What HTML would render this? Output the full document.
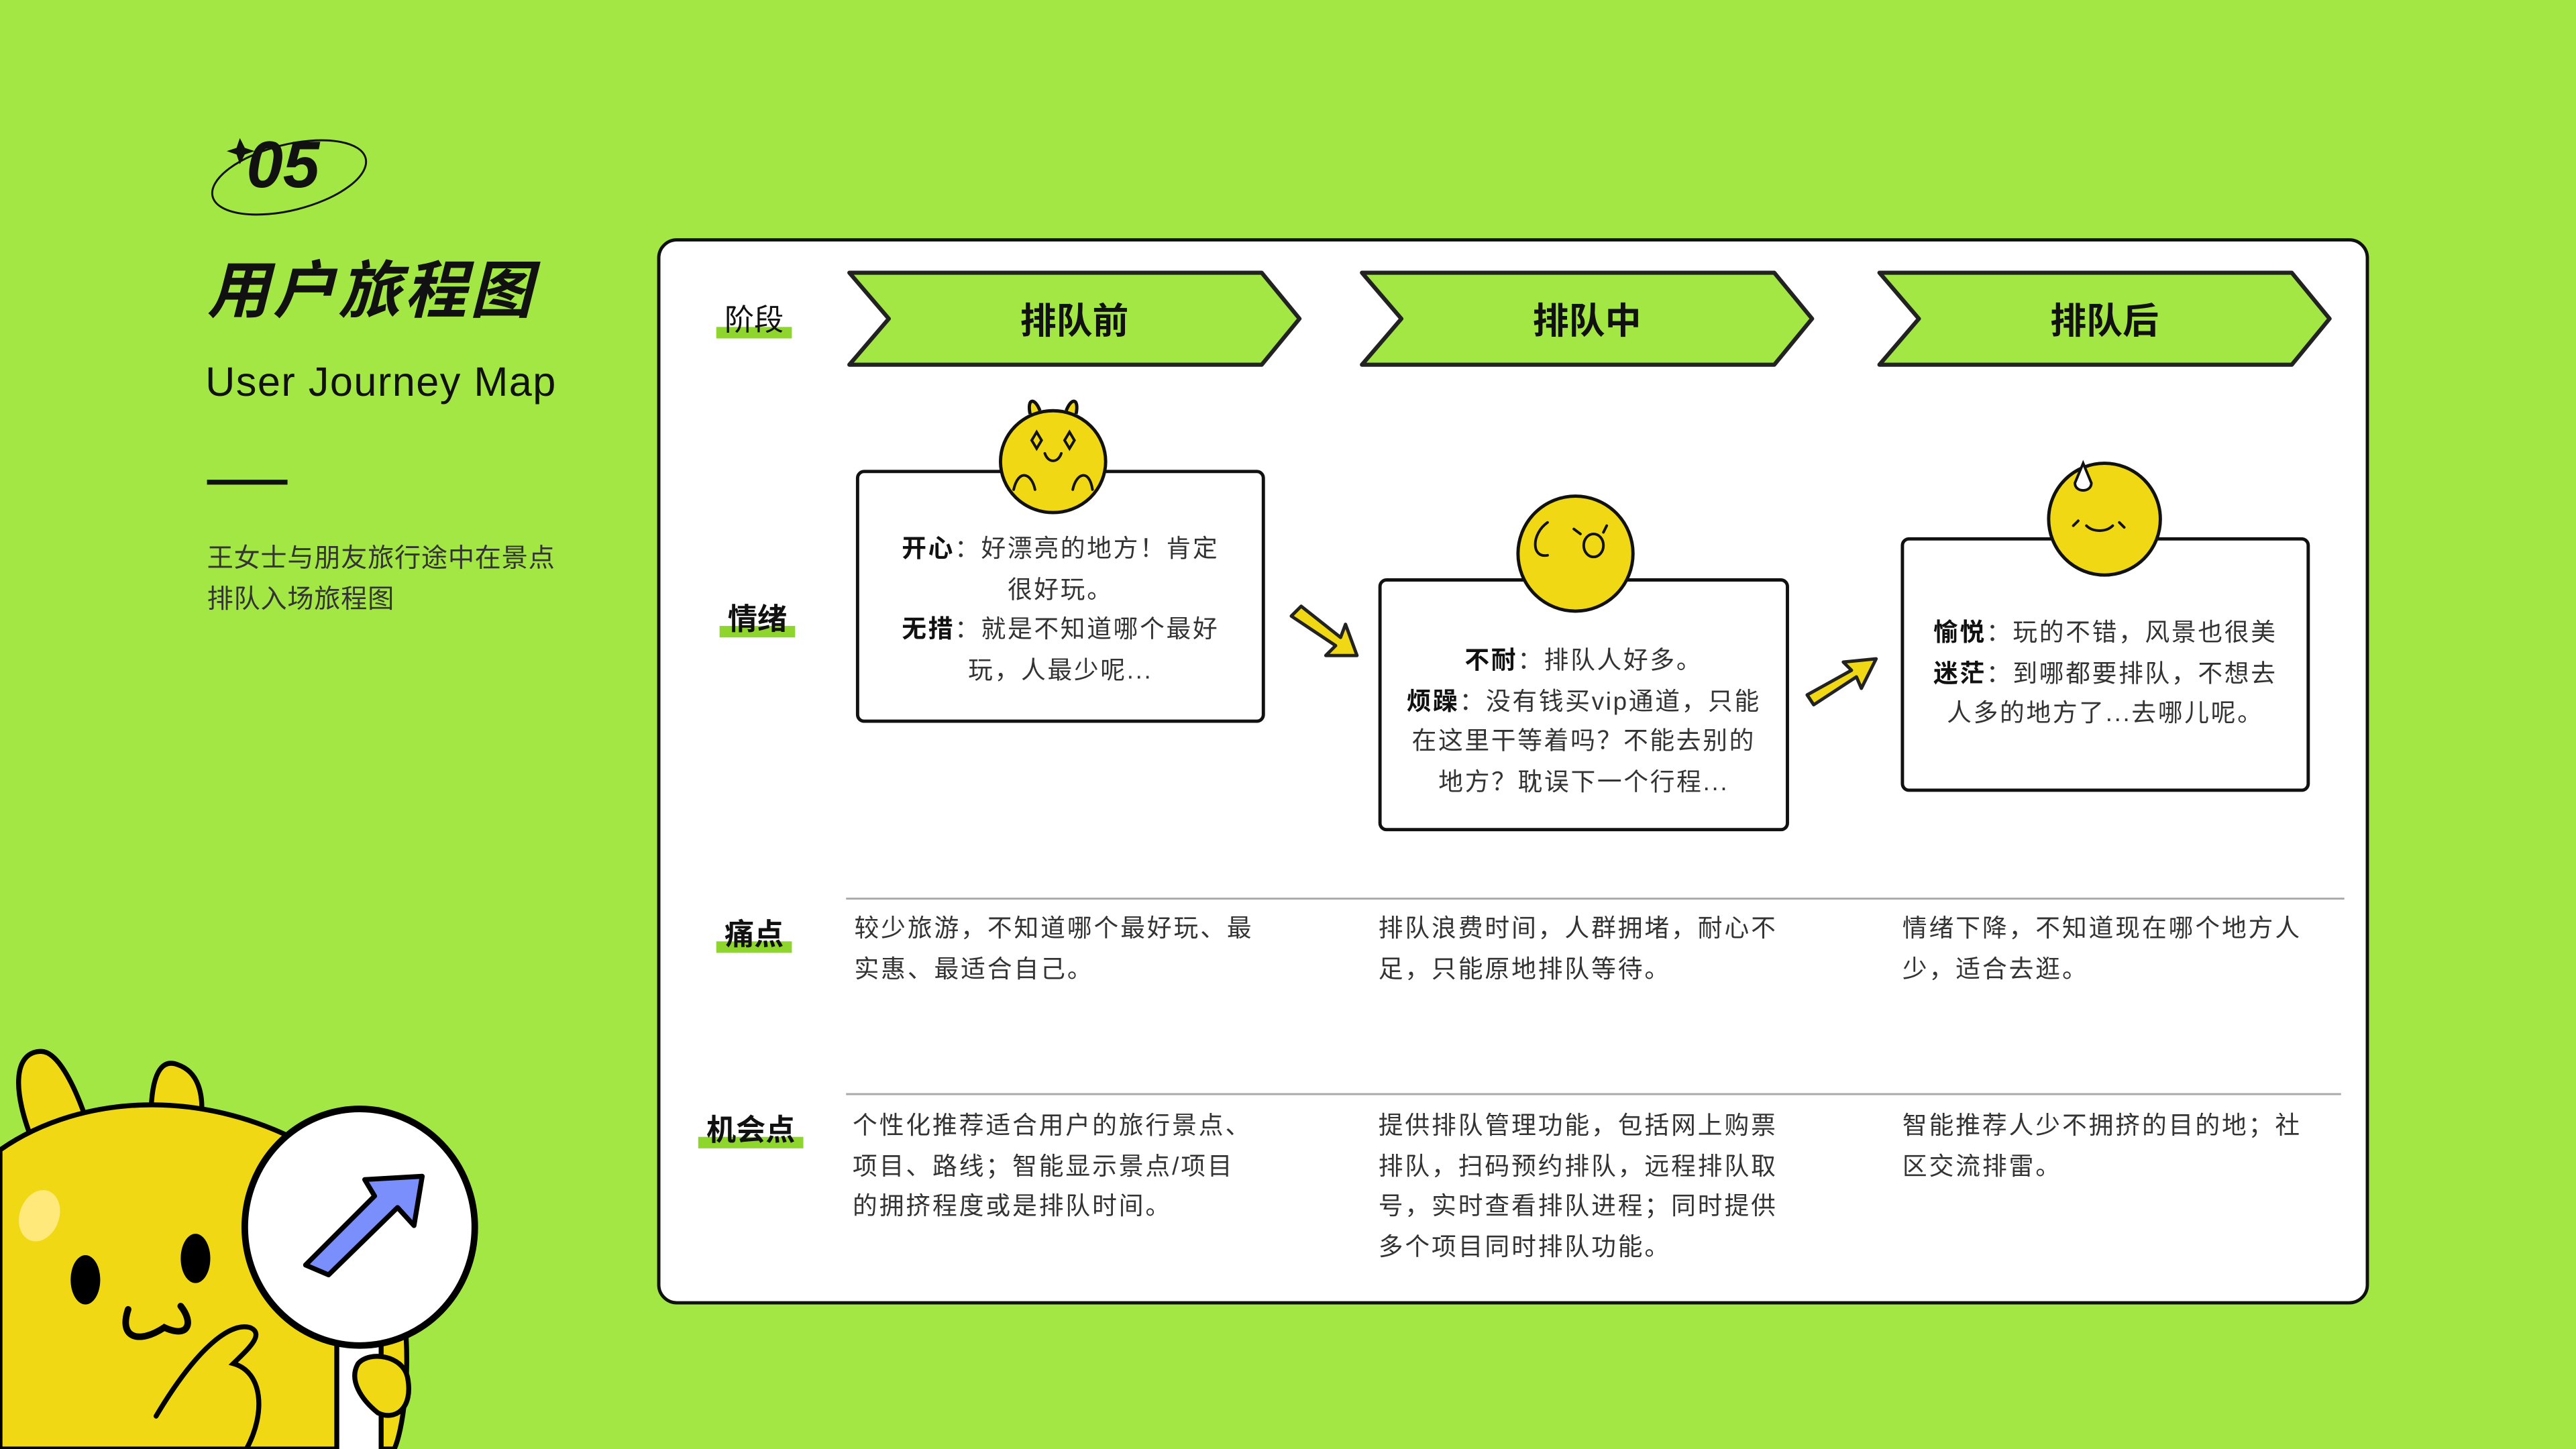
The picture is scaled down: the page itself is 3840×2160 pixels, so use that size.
<!DOCTYPE html>
<html><head><meta charset="utf-8"><style>
*{margin:0;padding:0;box-sizing:border-box}
body{width:3840px;height:2160px;overflow:hidden;background:#a3e745}
#w{position:absolute;left:0;top:0;width:1568px;height:882px;transform:scale(2.44898);transform-origin:0 0;font-family:"Liberation Sans","Noto Sans CJK SC",sans-serif;color:#222}
.a{position:absolute}
.t{font-size:15px;line-height:24.5px;color:#333;white-space:nowrap;letter-spacing:1.2px}
.lab{position:absolute;font-size:18px;font-weight:bold;color:#111;z-index:2}
.lab i{position:absolute;left:-5px;right:-5px;bottom:1px;height:7px;background:#8ed62e;z-index:-1}
.box{position:absolute;background:#fff;border:2px solid #111;border-radius:5px;text-align:center;font-size:15px;line-height:24.5px;color:#333;letter-spacing:1.1px;white-space:nowrap}
.box b{color:#111}
</style></head><body><div id="w">
<svg class="a" style="left:0;top:0" width="1568" height="882">
<ellipse cx="176" cy="108" rx="48" ry="20" transform="rotate(-14 176 108)" fill="none" stroke="#111" stroke-width="1.2"/>
<path d="M146 84 l3 6 6 2 -6 2 -3 6 -2-6 -6-2 6-2z" fill="#111"/>
<text x="150" y="114" font-family="Liberation Sans" font-weight="bold" font-style="italic" font-size="40" fill="#111">05</text>
<rect x="126" y="292" width="49" height="3" fill="#111"/>
<path d="M22 700 C5 660 10 640 25 640 C35 640 45 660 52 680Z" fill="#f0d914" stroke="#000" stroke-width="3"/>
<path d="M92 675 C93 650 100 645 108 648 C120 652 125 665 122 685Z" fill="#f0d914" stroke="#000" stroke-width="3"/>
<path d="M0 700 C50 665 130 660 200 705 C260 750 250 860 240 882 L0 882Z" fill="#f0d914" stroke="#000" stroke-width="3"/>
<ellipse cx="24" cy="740" rx="12" ry="16" fill="#ffe97a" transform="rotate(20 24 740)"/>
<ellipse cx="52" cy="779" rx="9" ry="15" fill="#000"/>
<ellipse cx="119" cy="766" rx="9" ry="15" fill="#000"/>
<path d="M78 797 C72 815 85 818 100 808 C115 815 118 805 110 795" fill="none" stroke="#000" stroke-width="4" stroke-linecap="round"/>
<path d="M95 862 C120 820 140 805 152 808 C162 812 150 822 142 830 C160 835 162 860 150 882" fill="none" stroke="#000" stroke-width="3" stroke-linecap="round"/>
<rect x="205" y="805" width="27" height="80" fill="#fff" stroke="#000" stroke-width="3"/>
<ellipse cx="219" cy="747" rx="70" ry="72" fill="#fff" stroke="#000" stroke-width="4"/>
<path d="M186 770 L228 728 L222 718 L257 716 L252 746 L242 735 L200 776Z" fill="#7b8ffc" stroke="#000" stroke-width="3" stroke-linejoin="round"/>
<path d="M218 830 C225 822 245 825 248 838 C252 858 240 865 230 860 C220 852 212 840 218 830Z" fill="#f0d914" stroke="#000" stroke-width="3"/>
</svg>
<div class="a" style="left:126px;top:146px;font-size:38px;font-weight:bold;font-style:italic;color:#111;letter-spacing:2px">用户旅程图</div>
<div class="a" style="left:125px;top:219px;font-size:25px;color:#111;letter-spacing:0.6px">User Journey Map</div>
<div class="a t" style="left:126px;top:329px;font-size:16px;letter-spacing:0.3px">王女士与朋友旅行途中在景点<br>排队入场旅程图</div>

<div class="a" style="left:400px;top:145px;width:1042px;height:649px;background:#fff;border:2px solid #111;border-radius:12px"></div>
<svg class="a" style="left:0;top:0" width="1568" height="882">
<g fill="#a3e745" stroke="#222" stroke-width="2.5" stroke-linejoin="round">
<path d="M517 166 H768 L791 194 L768 222 H517 L541 194Z"/>
<path d="M829 166 H1080 L1103 194 L1080 222 H829 L853 194Z"/>
<path d="M1144 166 H1395 L1418 194 L1395 222 H1144 L1168 194Z"/>
</g>
<g font-family="Liberation Sans,Noto Sans CJK SC" font-weight="bold" font-size="22" fill="#111" text-anchor="middle">
<text x="654" y="203">排队前</text><text x="966" y="203">排队中</text><text x="1281" y="203">排队后</text>
</g>
<line x1="515" y1="547" x2="1427" y2="547" stroke="#aaa" stroke-width="1.2"/>
<line x1="515" y1="666" x2="1425" y2="666" stroke="#aaa" stroke-width="1.2"/>
<g fill="#f0d914" stroke="#222" stroke-width="2" stroke-linejoin="round">
<path d="M786 375 L792 369 L816 388 L819 380 L826 399 L807 399 L813 393Z"/>
<path d="M1100 423 L1104 429 L1130 412 L1133 419 L1142 401 L1122 403 L1127 408Z"/>
</g>
</svg>
<div class="lab" style="left:441px;top:181px;font-weight:normal">阶段<i></i></div>
<div class="lab" style="left:443px;top:363px">情绪<i></i></div>
<div class="lab" style="left:441px;top:555px">痛点<i></i></div>
<div class="lab" style="left:430px;top:674px">机会点<i></i></div>

<div class="box" style="left:521px;top:286px;width:249px;height:154px;padding-top:35px"><b>开心</b>：好漂亮的地方！肯定<br>很好玩。<br><b>无措</b>：就是不知道哪个最好<br>玩，人最少呢...</div>
<div class="box" style="left:839px;top:352px;width:250px;height:154px;padding-top:37px"><b>不耐</b>：排队人好多。<br><b>烦躁</b>：没有钱买vip通道，只能<br>在这里干等着吗？不能去别的<br>地方？耽误下一个行程...</div>
<div class="box" style="left:1157px;top:327px;width:249px;height:155px;padding-top:45px"><b>愉悦</b>：玩的不错，风景也很美<br><b>迷茫</b>：到哪都要排队，不想去<br>人多的地方了...去哪儿呢。</div>

<svg class="a" style="left:0;top:0" width="1568" height="882">
<g fill="#f0d914" stroke="#111" stroke-width="2">
<path d="M627 252 C625 242 630 242 633 250 M649 250 C652 242 657 242 655 252"/>
<ellipse cx="641" cy="281" rx="32" ry="31"/>
<ellipse cx="959" cy="337" rx="35" ry="35"/>
<ellipse cx="1281" cy="316" rx="34" ry="34"/>
</g>
<g fill="none" stroke="#111" stroke-width="1.6" stroke-linecap="round">
<path d="M617 298 C620 285 628 288 630 298 M653 298 C655 288 663 285 665 298"/>
<path d="M636 276 C638 282 644 282 646 276"/>
<path d="M628 268 l3 -5 3 5 -3 5z M648 268 l3 -5 3 5 -3 5z"/>
<path d="M942 318 C932 325 932 340 942 338"/>
<ellipse cx="970" cy="332" rx="6" ry="7"/>
<path d="M958 322 l4 3 M978 320 l-2 4"/>
<path d="M1270 320 C1274 324 1282 324 1286 320 M1262 320 l3 -3 M1290 318 l3 3"/>
<path d="M1268 282 l-5 12 c0 6 10 6 10 0z" fill="#fff"/>
</g>
</svg>

<div class="a t" style="left:520px;top:554px">较少旅游，不知道哪个最好玩、最<br>实惠、最适合自己。</div>
<div class="a t" style="left:839px;top:554px">排队浪费时间，人群拥堵，耐心不<br>足，只能原地排队等待。</div>
<div class="a t" style="left:1158px;top:554px">情绪下降，不知道现在哪个地方人<br>少，适合去逛。</div>
<div class="a t" style="left:519px;top:674px">个性化推荐适合用户的旅行景点、<br>项目、路线；智能显示景点/项目<br>的拥挤程度或是排队时间。</div>
<div class="a t" style="left:839px;top:674px">提供排队管理功能，包括网上购票<br>排队，扫码预约排队，远程排队取<br>号，实时查看排队进程；同时提供<br>多个项目同时排队功能。</div>
<div class="a t" style="left:1158px;top:674px">智能推荐人少不拥挤的目的地；社<br>区交流排雷。</div>
</div></body></html>
